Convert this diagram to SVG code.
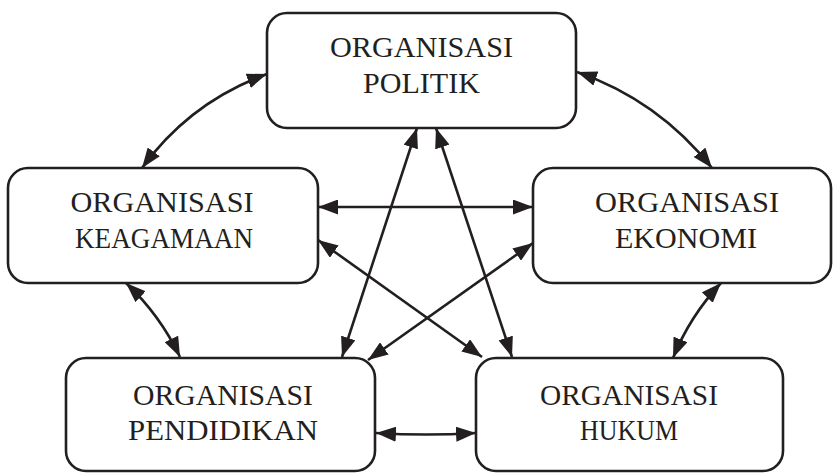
<svg xmlns="http://www.w3.org/2000/svg" width="833" height="473" viewBox="0 0 833 473">
<defs>
<style>
.box{fill:#fff;stroke:#231f20;stroke-width:2.6}
.lbl{font-family:"Liberation Serif","Times New Roman",serif;font-size:30px;fill:#231f20;text-anchor:middle}
.con{fill:none;stroke:#231f20;stroke-width:2.6}
</style>
<marker id="ah" viewBox="0 0 20 15" refX="20" refY="7.5" markerWidth="20" markerHeight="15" markerUnits="userSpaceOnUse" orient="auto-start-reverse">
<path d="M0,0 L20,7.5 L0,15 z" fill="#231f20"/>
</marker>
</defs>
<rect width="833" height="473" fill="#fff"/>
<g id="connectors">
<path class="con" d="M142,168 Q190,102 267,74" marker-start="url(#ah)" marker-end="url(#ah)"/>
<path class="con" d="M577,72 Q658,100 712,168" marker-start="url(#ah)" marker-end="url(#ah)"/>
<path class="con" d="M126,283 Q160,315 180,357" marker-start="url(#ah)" marker-end="url(#ah)"/>
<path class="con" d="M721,283 Q690,316 673,358" marker-start="url(#ah)" marker-end="url(#ah)"/>
<path class="con" d="M376,433 Q426,436 476,433" marker-start="url(#ah)" marker-end="url(#ah)"/>
<path class="con" d="M318,207 L533,207" marker-start="url(#ah)" marker-end="url(#ah)"/>
<path class="con" d="M318,240 L482,357" marker-start="url(#ah)" marker-end="url(#ah)"/>
<path class="con" d="M533,243 L368,360" marker-start="url(#ah)" marker-end="url(#ah)"/>
<path class="con" d="M417,128 L342,357" marker-start="url(#ah)" marker-end="url(#ah)"/>
<path class="con" d="M436,128 L512,357" marker-start="url(#ah)" marker-end="url(#ah)"/>
</g>
<g id="politik">
<rect class="box" x="267" y="13" width="309" height="115" rx="20"/>
<text class="lbl" x="421.5" y="57" textLength="183" lengthAdjust="spacingAndGlyphs">ORGANISASI</text>
<text class="lbl" x="421.5" y="93" textLength="117" lengthAdjust="spacingAndGlyphs">POLITIK</text>
</g>
<g id="keagamaan">
<rect class="box" x="8" y="168" width="310" height="115" rx="20"/>
<text class="lbl" x="162" y="212" textLength="183" lengthAdjust="spacingAndGlyphs">ORGANISASI</text>
<text class="lbl" x="164" y="248" textLength="178" lengthAdjust="spacingAndGlyphs">KEAGAMAAN</text>
</g>
<g id="ekonomi">
<rect class="box" x="533" y="168" width="298" height="115" rx="20"/>
<text class="lbl" x="687" y="212" textLength="184" lengthAdjust="spacingAndGlyphs">ORGANISASI</text>
<text class="lbl" x="686" y="248" textLength="142" lengthAdjust="spacingAndGlyphs">EKONOMI</text>
</g>
<g id="pendidikan">
<rect class="box" x="66" y="358" width="309" height="113" rx="20"/>
<text class="lbl" x="223" y="405" textLength="180" lengthAdjust="spacingAndGlyphs">ORGANISASI</text>
<text class="lbl" x="223" y="440" textLength="190" lengthAdjust="spacingAndGlyphs">PENDIDIKAN</text>
</g>
<g id="hukum">
<rect class="box" x="476" y="358" width="307" height="113" rx="20"/>
<text class="lbl" x="629" y="405" textLength="178" lengthAdjust="spacingAndGlyphs">ORGANISASI</text>
<text class="lbl" x="629" y="440" textLength="98" lengthAdjust="spacingAndGlyphs">HUKUM</text>
</g>
</svg>
